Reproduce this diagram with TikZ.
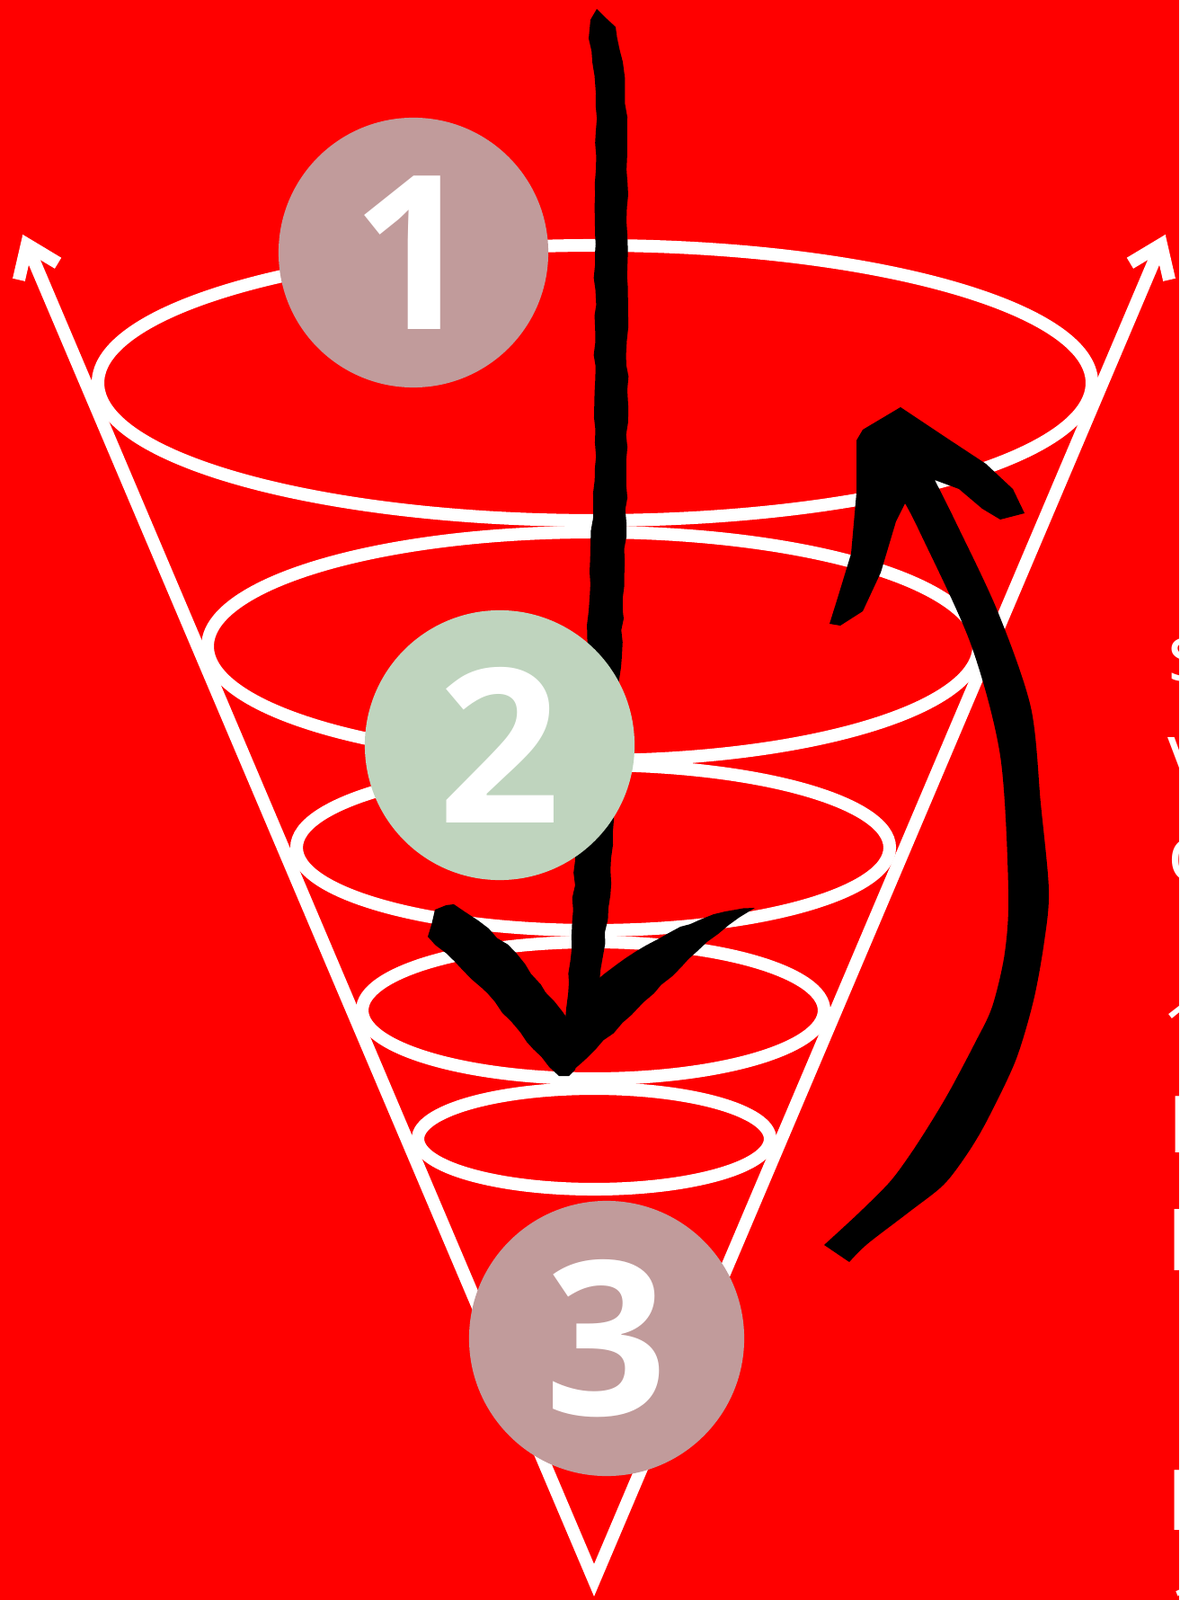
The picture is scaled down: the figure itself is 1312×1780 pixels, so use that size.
\documentclass[tikz,border=0pt]{standalone}
\usepackage{fontspec}
\setmainfont{Open Sans}
\usetikzlibrary{calc,decorations.pathmorphing}
\definecolor{Fondo}{HTML}{FF0000}
\definecolor{Rosado}{HTML}{C19B9B}
\definecolor{Salvia}{HTML}{BFD4BE}

\begin{document}
\begin{tikzpicture}[x=0.01cm,y=-0.01cm,
  cono/.style={white,line width=4pt,miter limit=10},
  pincel/.style={fill=black,decorate,decoration={random steps,segment length=4pt,amplitude=.4pt}},
  disco/.style={circle,minimum size=3cm,inner sep=0pt,text=white,font=\bfseries\fontsize{68}{68}\selectfont},
  margen/.style={white,inner sep=0pt,anchor=base west,font=\fontsize{25}{25}\selectfont}]
\fill[Fondo] (0,0) rectangle (1312,1780);
\useasboundingbox (0,0) rectangle (1312,1780);
\clip (0,0) rectangle (1312,1780);

% cono
\coordinate (vertice) at (661,1758);
\coordinate (puntaI) at (30,272);
\coordinate (puntaD) at (1292,272);
\draw[cono] (puntaI) -- (vertice) -- (puntaD);
\draw[cono] ($(puntaI)!0.025!36:(vertice)$) -- (puntaI) -- ($(puntaI)!0.025!-36:(vertice)$);
\draw[cono] ($(puntaD)!0.025!36:(vertice)$) -- (puntaD) -- ($(puntaD)!0.025!-36:(vertice)$);

% niveles
\draw[cono] (662,426) ellipse [x radius=553,y radius=153];
\draw[cono] (660,719) ellipse [x radius=429,y radius=127];
\draw[cono] (660,943) ellipse [x radius=330,y radius=92];
\draw[cono] (660,1124) ellipse [x radius=257,y radius=76];
\draw[cono] (661,1267) ellipse [x radius=196,y radius=56];

% flecha hacia abajo
\fill[pincel] (664,10) -- (657,22) -- (655,43) -- (663,104) -- (662,282) -- (662,520) -- (657,607) -- (655,680) -- (650,800) -- (645,900) -- (640,957) -- (633,1093) -- (628,1143) -- (633,1197) -- (640,1190) -- (657,1127) -- (667,1093) -- (677,1010) -- (682,940) -- (688,800) -- (693,680) -- (697,581) -- (698,434) -- (698,260) -- (698,130) -- (693,69) -- (685,30) -- cycle;
\fill[pincel] (484,1012) -- (505,1006) -- (532,1024) -- (575,1061) -- (607,1104) -- (634,1137) -- (640,1180) -- (633,1197) -- (622,1197) -- (586,1159) -- (536,1099) -- (476,1042) -- cycle;
\fill[pincel] (840,1010) -- (807,1014) -- (757,1031) -- (696,1066) -- (655,1098) -- (638,1150) -- (636,1192) -- (652,1178) -- (716,1115) -- (766,1067) -- (811,1029) -- cycle;

% flecha curva hacia arriba
\fill[black] plot[smooth,tension=.5] coordinates {(945,1404) (965,1384) (1012,1348) (1050,1318) (1076,1284) (1098,1247) (1130,1180) (1150,1113) (1162,1047) (1167,990) (1158,894) (1147,787) (1110,680) (1063,580) (1040,534)}
  -- (1067,544) -- (1093,566) -- (1113,578) -- (1140,571) -- (1127,544) -- (1097,516) -- (1053,487) -- (1002,453) -- (960,478) -- (953,490) -- (953,548) -- (947,616) -- (933,662) -- (923,694) -- (935,696) -- (960,680) -- (980,637) -- (997,580) -- (1007,560)
  -- plot[smooth,tension=.5] coordinates {(1007,560) (1023,591) (1080,716) (1113,841) (1122,990) (1118,1060) (1104,1120) (1085,1160) (1057,1213) (1035,1250) (1013,1284) (990,1315) (955,1350) (917,1385)} -- cycle;

% numeros
\node[disco,fill=Rosado] (uno) at (460,281) {1};
\node[disco,fill=Salvia] (dos) at (556,829) {2};
\node[disco,fill=Rosado,minimum size=3.06cm] (tres) at (675,1489) {3};

% texto cortado al margen
\foreach \letra/\yy/\xx [count=\i] in {s/758/1299,v/867/1299,o/980/1299,1/1178/1292,H/1282/1299,p/1392/1299,k/1702/1299,a/1814/1299}
  \node[margen] (margen\i) at (\xx,\yy) {\letra};
\end{tikzpicture}
\end{document}
